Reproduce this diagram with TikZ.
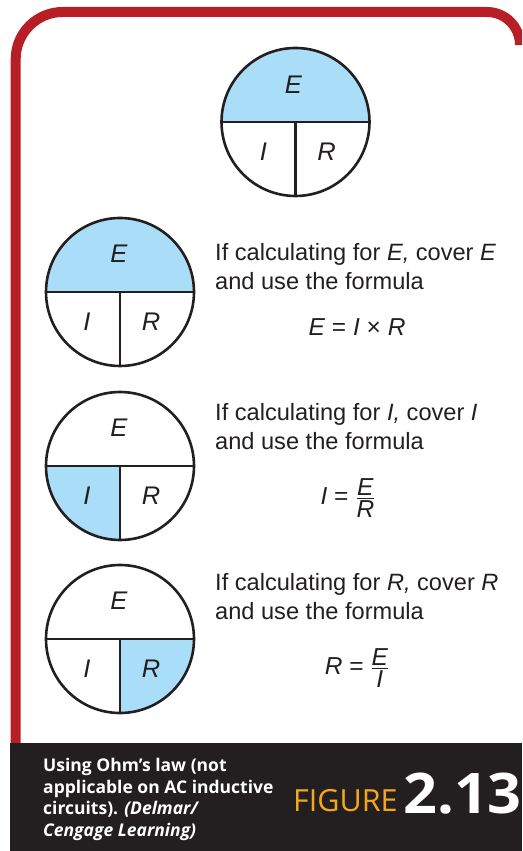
\documentclass[tikz,border=0pt]{standalone}
\usepackage{amsmath}
\usepackage{fontspec}
\setmainfont{Liberation Sans}
\newfontfamily\capfont{Open Sans}
\newfontfamily\numfont[FakeStretch=1.06]{Open Sans}
\usetikzlibrary{calc}
\definecolor{ohmblue}{RGB}{170,222,248}
\definecolor{framered}{RGB}{184,30,37}
\definecolor{ink}{RGB}{35,31,32}
\definecolor{figorange}{RGB}{245,167,28}
\newcommand\ohmfrac[2]{\genfrac{}{}{1.6pt}{1}{\mbox{\itshape #1}}{\mbox{\itshape #2}}}
\begin{document}
\begin{tikzpicture}[x=1pt,y=1pt,
  ring/.style={draw=ink, line width=2.6pt},
  letter/.style={font=\fontsize{25.5}{30}\selectfont\itshape, text=ink, inner sep=0pt},
  body/.style={font=\fontsize{23.6}{29}\selectfont, text=ink, anchor=base west, inner sep=0pt},
  formula/.style={font=\fontsize{24.5}{29}\selectfont, text=ink, inner sep=0pt},
  capline/.style={font=\capfont\bfseries\fontsize{17.5}{21}\selectfont, text=white, anchor=base west, inner sep=0pt}]
\useasboundingbox (0,0) rectangle (522,851);
\clip (0,0) rectangle (522,851);

% frame
\draw[framered, line width=10pt] (15.7,108) -- (15.7,792)
  arc[start angle=180, end angle=90, radius=47] -- (487,839)
  arc[start angle=90, end angle=0, radius=33];
\fill[ink] (10,0) rectangle (522,108);

% circle centres
\coordinate (c1) at (295.5,729);
\coordinate (c2) at (120,559);
\coordinate (c3) at (120,385);
\coordinate (c4) at (120,212);

% fills
\fill[ohmblue] ($(c1)+(-74,0)$) arc[start angle=180, end angle=0, radius=74] -- cycle;
\fill[ohmblue] ($(c2)+(-74,0)$) arc[start angle=180, end angle=0, radius=74] -- cycle;
\fill[ohmblue] (c3) -- ++(-74,0) arc[start angle=180, end angle=270, radius=74] -- cycle;
\fill[ohmblue] (c4) -- ++(0,-74) arc[start angle=270, end angle=360, radius=74] -- cycle;

% circles and dividers
\foreach \c in {c1,c2,c3,c4}{
  \draw[ring] (\c) circle[radius=74];
  \draw[ring] ($(\c)+(-74,0)$) -- ($(\c)+(74,0)$);
  \draw[ring] (\c) -- ($(\c)+(0,-74)$);
}

% letters
\node[letter] (c1E) at ($(c1)+(-2,37)$) {E};
\node[letter] (c1I) at ($(c1)+(-32,-30)$) {I};
\node[letter] (c1R) at ($(c1)+(31,-30)$) {R};
\node[letter] (c2E) at ($(c2)+(-1,38)$) {E};
\node[letter] (c2I) at ($(c2)+(-33,-30)$) {I};
\node[letter] (c2R) at ($(c2)+(31,-30)$) {R};
\node[letter] (c3E) at ($(c3)+(-1,38)$) {E};
\node[letter] (c3I) at ($(c3)+(-33,-30)$) {I};
\node[letter] (c3R) at ($(c3)+(31,-30)$) {R};
\node[letter] (c4E) at ($(c4)+(-1,38)$) {E};
\node[letter] (c4I) at ($(c4)+(-33,-30)$) {I};
\node[letter] (c4R) at ($(c4)+(31,-30)$) {R};

% texts
\node[body] (t2a) at (215,590) {If calculating for \textit{E,} cover \textit{E}};
\node[body] (t2b) at (215,561) {and use the formula};
\node[formula, anchor=base] (f2) at (357,515) {\textit{E} = \textit{I} × \textit{R}};

\node[body] (t3a) at (215,430) {If calculating for \textit{I,} cover \textit{I}};
\node[body] (t3b) at (215,401) {and use the formula};
\node[formula] (f3) at (348,353) {\textit{I} = $\ohmfrac{E}{R}$};

\node[body] (t4a) at (215,260) {If calculating for \textit{R,} cover \textit{R}};
\node[body] (t4b) at (215,231) {and use the formula};
\node[formula] (f4) at (357,183) {\textit{R} = $\ohmfrac{E}{I}$};

% caption
\node[capline] (cap1) at (43,79) {Using Ohm’s law (not};
\node[capline] (cap2) at (43,57) {applicable on AC inductive};
\node[capline] (cap3) at (43,36) {circuits). \textit{(Delmar/}};
\node[capline] (cap4) at (43,14) {\textit{Cengage Learning)}};
\node[anchor=base west, inner sep=0pt, font=\capfont\fontsize{30.5}{31}\selectfont, text=figorange] (fig) at (293,39) {FIGURE};
\node[anchor=base west, inner sep=0pt, font=\numfont\bfseries\fontsize{56}{56}\selectfont, text=white] (num) at (403,37) {2.13};
\end{tikzpicture}
\end{document}
